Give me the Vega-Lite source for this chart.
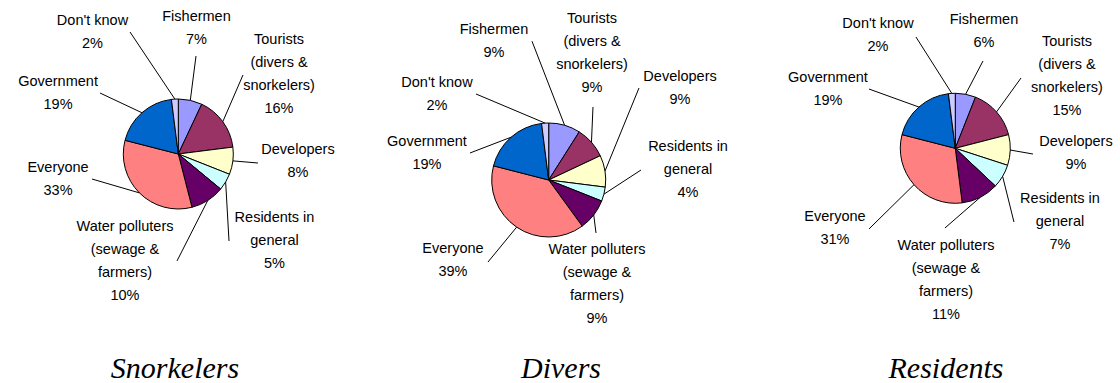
{
  "$schema": "https://vega.github.io/schema/vega-lite/v6.json",
  "padding": 0,
  "spacing": 0,
  "background": "white",
  "config": {"view": {"stroke": null}},
  "data": {"values": [
    {"p": "Snorkelers", "idx": 1, "cat": "Fishermen", "name": "Fishermen", "pct": 7, "tx": 0.331, "ty": -2.482, "lx": 0.322, "ly": -1.782},
    {"p": "Snorkelers", "idx": 2, "cat": "Tourists", "name": "Tourists\n(divers &\nsnorkelers)", "pct": 16, "tx": 1.831, "ty": -2.073, "lx": 1.176, "ly": -1.436},
    {"p": "Snorkelers", "idx": 3, "cat": "Developers", "name": "Developers", "pct": 8, "tx": 2.176, "ty": -0.073, "lx": 1.449, "ly": 0.164},
    {"p": "Snorkelers", "idx": 4, "cat": "Residents", "name": "Residents in\ngeneral", "pct": 5, "tx": 1.749, "ty": 1.164, "lx": 0.922, "ly": 1.582},
    {"p": "Snorkelers", "idx": 5, "cat": "Water", "name": "Water polluters\n(sewage &\nfarmers)", "pct": 10, "tx": -0.969, "ty": 1.327, "lx": -0.024, "ly": 1.945},
    {"p": "Snorkelers", "idx": 6, "cat": "Everyone", "name": "Everyone", "pct": 33, "tx": -2.187, "ty": 0.255, "lx": -1.569, "ly": 0.455},
    {"p": "Snorkelers", "idx": 7, "cat": "Government", "name": "Government", "pct": 19, "tx": -2.187, "ty": -1.309, "lx": -1.424, "ly": -1.109},
    {"p": "Snorkelers", "idx": 8, "cat": "Dont", "name": "Don't know", "pct": 2, "tx": -1.56, "ty": -2.418, "lx": -0.878, "ly": -2.218},
    {"p": "Divers", "idx": 1, "cat": "Fishermen", "name": "Fishermen", "pct": 9, "tx": -0.96, "ty": -2.632, "lx": -0.293, "ly": -2.435},
    {"p": "Divers", "idx": 2, "cat": "Tourists", "name": "Tourists\n(divers &\nsnorkelers)", "pct": 9, "tx": 0.76, "ty": -2.825, "lx": 0.777, "ly": -1.281},
    {"p": "Divers", "idx": 3, "cat": "Developers", "name": "Developers", "pct": 9, "tx": 2.304, "ty": -1.807, "lx": 1.584, "ly": -1.614},
    {"p": "Divers", "idx": 4, "cat": "Residents", "name": "Residents in\ngeneral", "pct": 4, "tx": 2.444, "ty": -0.579, "lx": 1.619, "ly": -0.175},
    {"p": "Divers", "idx": 5, "cat": "Water", "name": "Water polluters\n(sewage &\nfarmers)", "pct": 9, "tx": 0.847, "ty": 1.228, "lx": 0.83, "ly": 0.93},
    {"p": "Divers", "idx": 6, "cat": "Everyone", "name": "Everyone", "pct": 39, "tx": -1.679, "ty": 1.211, "lx": -1.065, "ly": 1.439},
    {"p": "Divers", "idx": 7, "cat": "Government", "name": "Government", "pct": 19, "tx": -2.135, "ty": -0.667, "lx": -1.381, "ly": -0.474},
    {"p": "Divers", "idx": 8, "cat": "Dont", "name": "Don't know", "pct": 2, "tx": -1.96, "ty": -1.702, "lx": -1.275, "ly": -1.509},
    {"p": "Residents", "idx": 1, "cat": "Fishermen", "name": "Fishermen", "pct": 6, "tx": 0.522, "ty": -2.333, "lx": 0.504, "ly": -1.587},
    {"p": "Residents", "idx": 2, "cat": "Tourists", "name": "Tourists\n(divers &\nsnorkelers)", "pct": 15, "tx": 2.031, "ty": -1.933, "lx": 1.195, "ly": -1.278},
    {"p": "Residents", "idx": 3, "cat": "Developers", "name": "Developers", "pct": 9, "tx": 2.195, "ty": -0.115, "lx": 1.413, "ly": 0.104},
    {"p": "Residents", "idx": 4, "cat": "Residents", "name": "Residents in\ngeneral", "pct": 7, "tx": 1.904, "ty": 0.922, "lx": 1.067, "ly": 1.34},
    {"p": "Residents", "idx": 5, "cat": "Water", "name": "Water polluters\n(sewage &\nfarmers)", "pct": 11, "tx": -0.169, "ty": 1.776, "lx": -0.188, "ly": 1.449},
    {"p": "Residents", "idx": 6, "cat": "Everyone", "name": "Everyone", "pct": 31, "tx": -2.187, "ty": 1.249, "lx": -1.569, "ly": 1.467},
    {"p": "Residents", "idx": 7, "cat": "Government", "name": "Government", "pct": 19, "tx": -2.315, "ty": -1.278, "lx": -1.569, "ly": -1.078},
    {"p": "Residents", "idx": 8, "cat": "Dont", "name": "Don't know", "pct": 2, "tx": -1.405, "ty": -2.26, "lx": -0.715, "ly": -2.024}
  ]},
  "hconcat": [
    {
      "width": 373, "height": 340,
      "title": {"text": "Snorkelers", "orient": "bottom", "font": "Liberation Serif", "fontSize": 30, "fontStyle": "italic", "fontWeight": "normal", "color": "black", "dx": -11.5, "offset": 14},
      "transform": [
        {"filter": "datum.p == 'Snorkelers'"},
        {"window": [{"op": "sum", "field": "pct", "as": "t1"}], "sort": [{"field": "idx"}], "frame": [null, 0]},
        {"calculate": "datum.t1 - datum.pct", "as": "t0"},
        {"calculate": "(datum.t1 - datum.pct / 2) * PI / 50", "as": "a"},
        {"calculate": "sin(datum.a)", "as": "sx"},
        {"calculate": "-cos(datum.a)", "as": "sy"},
        {"calculate": "datum.name + '\\n' + datum.pct + '%'", "as": "lbl"}
      ],
      "layer": [
        {"mark": {"type": "arc", "outerRadius": 55, "stroke": "black", "strokeWidth": 1},
         "encoding": {
           "x": {"datum": 0, "type": "quantitative", "scale": {"domain": [-3.242, 3.540], "nice": false, "zero": false}, "axis": null},
           "y": {"datum": 0, "type": "quantitative", "scale": {"domain": [-2.8, 3.382], "reverse": true, "nice": false, "zero": false}, "axis": null},
           "theta": {"field": "t0", "type": "quantitative", "stack": null, "scale": {"domain": [0, 100]}},
           "theta2": {"field": "t1"},
           "color": {"field": "cat", "type": "nominal", "legend": null, "scale": {"domain": ["Fishermen", "Tourists", "Developers", "Residents", "Water", "Everyone", "Government", "Dont"], "range": ["#9999FF", "#993366", "#FFFFCC", "#CCFFFF", "#660066", "#FF8080", "#0066CC", "#CCCCFF"]}}
         }},
        {"mark": {"type": "rule", "color": "black", "strokeWidth": 1},
         "encoding": {
           "x": {"field": "sx", "type": "quantitative", "scale": {"domain": [-3.242, 3.540], "nice": false, "zero": false}, "axis": null},
           "y": {"field": "sy", "type": "quantitative", "scale": {"domain": [-2.8, 3.382], "reverse": true, "nice": false, "zero": false}, "axis": null},
           "x2": {"field": "lx"}, "y2": {"field": "ly"}
         }},
        {"mark": {"type": "text", "font": "Liberation Sans", "fontSize": 14.5, "lineBreak": "\n", "lineHeight": 23, "baseline": "middle", "align": "center", "color": "black"},
         "encoding": {
           "x": {"field": "tx", "type": "quantitative", "scale": {"domain": [-3.242, 3.540], "nice": false, "zero": false}, "axis": null},
           "y": {"field": "ty", "type": "quantitative", "scale": {"domain": [-2.8, 3.382], "reverse": true, "nice": false, "zero": false}, "axis": null},
           "text": {"field": "lbl"}
         }}
      ]
    },
    {
      "width": 373, "height": 340,
      "title": {"text": "Divers", "orient": "bottom", "font": "Liberation Serif", "fontSize": 30, "fontStyle": "italic", "fontWeight": "normal", "color": "black", "dx": 1.5, "offset": 14},
      "transform": [
        {"filter": "datum.p == 'Divers'"},
        {"window": [{"op": "sum", "field": "pct", "as": "t1"}], "sort": [{"field": "idx"}], "frame": [null, 0]},
        {"calculate": "datum.t1 - datum.pct", "as": "t0"},
        {"calculate": "(datum.t1 - datum.pct / 2) * PI / 50", "as": "a"},
        {"calculate": "sin(datum.a)", "as": "sx"},
        {"calculate": "-cos(datum.a)", "as": "sy"},
        {"calculate": "datum.name + '\\n' + datum.pct + '%'", "as": "lbl"}
      ],
      "layer": [
        {"mark": {"type": "arc", "outerRadius": 57, "stroke": "black", "strokeWidth": 1},
         "encoding": {
           "x": {"datum": 0, "type": "quantitative", "scale": {"domain": [-3.082, 3.461], "nice": false, "zero": false}, "axis": null},
           "y": {"datum": 0, "type": "quantitative", "scale": {"domain": [-3.158, 2.807], "reverse": true, "nice": false, "zero": false}, "axis": null},
           "theta": {"field": "t0", "type": "quantitative", "stack": null, "scale": {"domain": [0, 100]}},
           "theta2": {"field": "t1"},
           "color": {"field": "cat", "type": "nominal", "legend": null, "scale": {"domain": ["Fishermen", "Tourists", "Developers", "Residents", "Water", "Everyone", "Government", "Dont"], "range": ["#9999FF", "#993366", "#FFFFCC", "#CCFFFF", "#660066", "#FF8080", "#0066CC", "#CCCCFF"]}}
         }},
        {"mark": {"type": "rule", "color": "black", "strokeWidth": 1},
         "encoding": {
           "x": {"field": "sx", "type": "quantitative", "scale": {"domain": [-3.082, 3.461], "nice": false, "zero": false}, "axis": null},
           "y": {"field": "sy", "type": "quantitative", "scale": {"domain": [-3.158, 2.807], "reverse": true, "nice": false, "zero": false}, "axis": null},
           "x2": {"field": "lx"}, "y2": {"field": "ly"}
         }},
        {"mark": {"type": "text", "font": "Liberation Sans", "fontSize": 14.5, "lineBreak": "\n", "lineHeight": 23, "baseline": "middle", "align": "center", "color": "black"},
         "encoding": {
           "x": {"field": "tx", "type": "quantitative", "scale": {"domain": [-3.082, 3.461], "nice": false, "zero": false}, "axis": null},
           "y": {"field": "ty", "type": "quantitative", "scale": {"domain": [-3.158, 2.807], "reverse": true, "nice": false, "zero": false}, "axis": null},
           "text": {"field": "lbl"}
         }}
      ]
    },
    {
      "width": 374, "height": 340,
      "title": {"text": "Residents", "orient": "bottom", "font": "Liberation Serif", "fontSize": 30, "fontStyle": "italic", "fontWeight": "normal", "color": "black", "dx": 13, "offset": 14},
      "transform": [
        {"filter": "datum.p == 'Residents'"},
        {"window": [{"op": "sum", "field": "pct", "as": "t1"}], "sort": [{"field": "idx"}], "frame": [null, 0]},
        {"calculate": "datum.t1 - datum.pct", "as": "t0"},
        {"calculate": "(datum.t1 - datum.pct / 2) * PI / 50", "as": "a"},
        {"calculate": "sin(datum.a)", "as": "sx"},
        {"calculate": "-cos(datum.a)", "as": "sy"},
        {"calculate": "datum.name + '\\n' + datum.pct + '%'", "as": "lbl"}
      ],
      "layer": [
        {"mark": {"type": "arc", "outerRadius": 55, "stroke": "black", "strokeWidth": 1},
         "encoding": {
           "x": {"datum": 0, "type": "quantitative", "scale": {"domain": [-3.805, 2.995], "nice": false, "zero": false}, "axis": null},
           "y": {"datum": 0, "type": "quantitative", "scale": {"domain": [-2.696, 3.485], "reverse": true, "nice": false, "zero": false}, "axis": null},
           "theta": {"field": "t0", "type": "quantitative", "stack": null, "scale": {"domain": [0, 100]}},
           "theta2": {"field": "t1"},
           "color": {"field": "cat", "type": "nominal", "legend": null, "scale": {"domain": ["Fishermen", "Tourists", "Developers", "Residents", "Water", "Everyone", "Government", "Dont"], "range": ["#9999FF", "#993366", "#FFFFCC", "#CCFFFF", "#660066", "#FF8080", "#0066CC", "#CCCCFF"]}}
         }},
        {"mark": {"type": "rule", "color": "black", "strokeWidth": 1},
         "encoding": {
           "x": {"field": "sx", "type": "quantitative", "scale": {"domain": [-3.805, 2.995], "nice": false, "zero": false}, "axis": null},
           "y": {"field": "sy", "type": "quantitative", "scale": {"domain": [-2.696, 3.485], "reverse": true, "nice": false, "zero": false}, "axis": null},
           "x2": {"field": "lx"}, "y2": {"field": "ly"}
         }},
        {"mark": {"type": "text", "font": "Liberation Sans", "fontSize": 14.5, "lineBreak": "\n", "lineHeight": 23, "baseline": "middle", "align": "center", "color": "black"},
         "encoding": {
           "x": {"field": "tx", "type": "quantitative", "scale": {"domain": [-3.805, 2.995], "nice": false, "zero": false}, "axis": null},
           "y": {"field": "ty", "type": "quantitative", "scale": {"domain": [-2.696, 3.485], "reverse": true, "nice": false, "zero": false}, "axis": null},
           "text": {"field": "lbl"}
         }}
      ]
    }
  ]
}
